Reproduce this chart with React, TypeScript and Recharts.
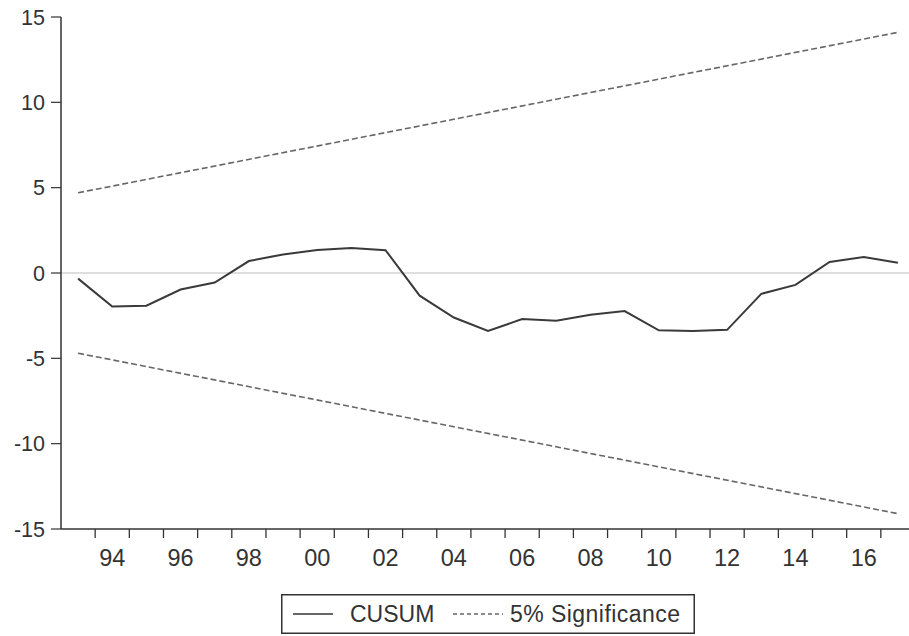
import React from "react";
import { LineChart, Line, XAxis, YAxis, ReferenceLine, Legend } from "recharts";

const years = [1993, 1994, 1995, 1996, 1997, 1998, 1999, 2000, 2001, 2002, 2003, 2004, 2005, 2006, 2007, 2008, 2009, 2010, 2011, 2012, 2013, 2014, 2015, 2016, 2017];
const cusum = [-0.33, -1.96, -1.92, -0.97, -0.56, 0.7, 1.09, 1.35, 1.47, 1.34, -1.33, -2.61, -3.4, -2.7, -2.8, -2.45, -2.23, -3.36, -3.4, -3.33, -1.22, -0.7, 0.65, 0.94, 0.6];
const upperBound = [4.7, null, null, null, null, null, null, null, null, null, null, null, null, null, null, null, null, null, null, null, null, null, null, null, 14.1];
const lowerBound = [-4.7, null, null, null, null, null, null, null, null, null, null, null, null, null, null, null, null, null, null, null, null, null, null, null, -14.1];
const xLabelYears = [1994, 1996, 1998, 2000, 2002, 2004, 2006, 2008, 2010, 2012, 2014, 2016];
const xLabels = ["94", "96", "98", "00", "02", "04", "06", "08", "10", "12", "14", "16"];
const yTicks = [-15, -10, -5, 0, 5, 10, 15];

const data = years.map((y, i) => ({ year: y, cusum: cusum[i], upper: upperBound[i], lower: lowerBound[i] }));
const labelMap: Record<number, string> = {};
xLabelYears.forEach((y, i) => { labelMap[y] = xLabels[i]; });

const CHART_W = 920;
const CHART_H = 636;
const MARGIN = { top: 17, right: 5, bottom: 67, left: 0 };
const Y_W = 61;
const X_H = 40;
const PLOT_W = CHART_W - MARGIN.left - MARGIN.right - Y_W;
const STEP = PLOT_W / years.length;
const FONT = "'Liberation Sans', Arial, sans-serif";
const INK = "#333";

const XTick = (props: any) => {
  const { x, y, payload } = props;
  const yr = payload.value as number;
  const label = labelMap[yr];
  return (
    <g>
      {yr > years[0] && (
        <line x1={x - STEP / 2} x2={x - STEP / 2} y1={y} y2={y + 9} stroke={INK} strokeWidth={1.3} />
      )}
      {label && (
        <text x={x} y={y + 20} dy="0.71em" textAnchor="middle" fill={INK} fontSize={23.5} fontFamily={FONT}>
          {label}
        </text>
      )}
    </g>
  );
};

const LegendBox = () => (
  <svg width={414} height={40} style={{ display: "block" }}>
    <rect x={0.75} y={0.75} width={412.5} height={38.5} fill="#fff" stroke={INK} strokeWidth={1.5} />
    <line x1={12} x2={52} y1={20} y2={20} stroke={INK} strokeWidth={1.5} />
    <text x={69} y={28} fill={INK} fontSize={23} fontFamily={FONT}>CUSUM</text>
    <line x1={172} x2={222} y1={20} y2={20} stroke="#666" strokeWidth={1.3} strokeDasharray="4 3" />
    <text x={229} y={28} fill={INK} fontSize={23} fontFamily={FONT} textLength={170}>5% Significance</text>
  </svg>
);

export default function App() {
  return (
    <div style={{ position: "absolute", left: 0, top: 0, width: 909, height: 636, overflow: "hidden", background: "#fff" }}>
      <LineChart width={CHART_W} height={CHART_H} data={data} margin={MARGIN}>
        <XAxis
          dataKey="year"
          type="number"
          domain={[years[0] - 0.5, years[years.length - 1] + 0.5]}
          ticks={years}
          interval={0}
          tickLine={false}
          tickSize={0}
          tickMargin={0}
          height={X_H}
          axisLine={{ stroke: INK, strokeWidth: 1.5 }}
          tick={<XTick />}
        />
        <XAxis
          xAxisId="top"
          orientation="top"
          type="number"
          domain={[years[0] - 0.5, years[years.length - 1] + 0.5]}
          height={0}
          tick={false}
          tickLine={false}
          axisLine={{ stroke: INK, strokeWidth: 1.5 }}
        />
        <YAxis
          type="number"
          domain={[-15, 15]}
          ticks={yTicks}
          interval={0}
          width={Y_W}
          tickSize={10}
          tickMargin={6}
          tickLine={{ stroke: INK, strokeWidth: 1.2 }}
          axisLine={{ stroke: INK, strokeWidth: 1.5 }}
          tick={{ fill: INK, fontSize: 21.5, fontFamily: FONT }}
        />
        <ReferenceLine y={0} stroke="#bdbdbd" strokeWidth={1.2} />
        <Line type="linear" dataKey="upper" stroke="#666" strokeWidth={1.6} strokeDasharray="6 3" dot={false} connectNulls isAnimationActive={false} name="5% Significance" />
        <Line type="linear" dataKey="lower" stroke="#666" strokeWidth={1.6} strokeDasharray="6 3" dot={false} connectNulls isAnimationActive={false} legendType="none" />
        <Line type="linear" dataKey="cusum" stroke="#3a3a3a" strokeWidth={2} dot={false} isAnimationActive={false} name="CUSUM" />
        <Legend
          layout="horizontal"
          verticalAlign="middle"
          align="center"
          content={<LegendBox />}
          wrapperStyle={{ top: 594, left: 281, width: 414, height: 40 }}
        />
      </LineChart>
    </div>
  );
}
